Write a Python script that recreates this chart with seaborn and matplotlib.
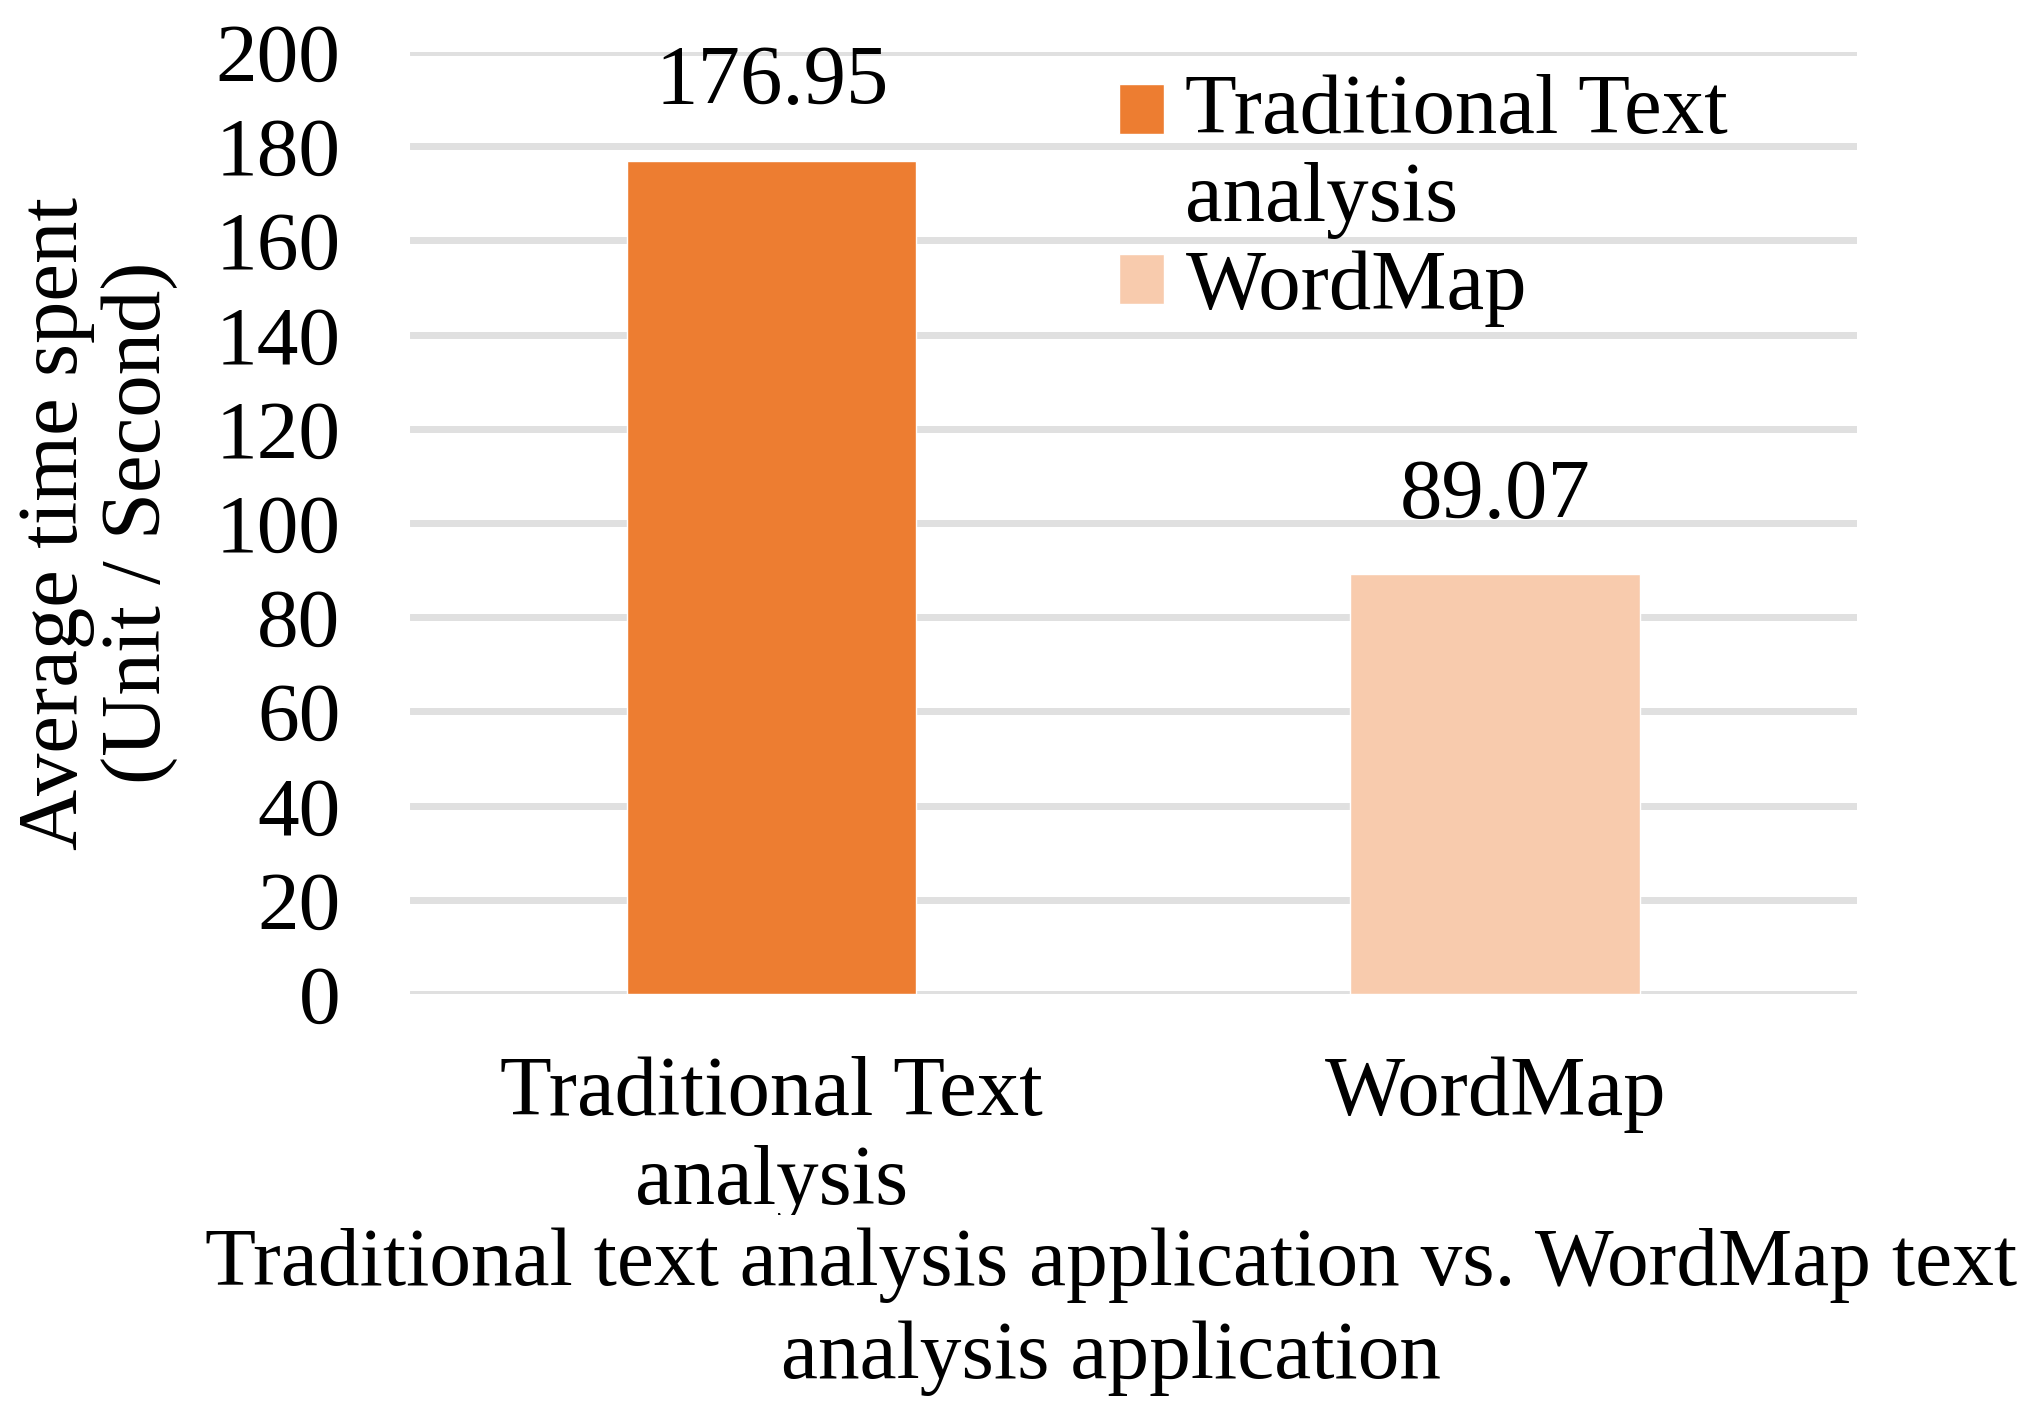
import matplotlib
matplotlib.use("Agg")
import matplotlib.pyplot as plt
import seaborn as sns
import pandas as pd
from matplotlib.legend_handler import HandlerPatch
from matplotlib.patches import Rectangle

# Chart data
categories = ["Traditional Text\nanalysis", "WordMap"]
avg_time = [176.95, 89.07]
bar_colors = ["#ED7D31", "#F8CBAD"]
y_ticks = [0, 20, 40, 60, 80, 100, 120, 140, 160, 180, 200]

df = pd.DataFrame({"Application": categories, "Time": avg_time})

sns.set_theme(style="white")
plt.rcParams["font.family"] = ["Liberation Serif", "DejaVu Serif"]
for key in ["text.color", "axes.labelcolor", "xtick.color", "ytick.color"]:
    plt.rcParams[key] = "black"
fs = 61

fig = plt.figure(figsize=(20.41, 14.22), dpi=100)
ax = fig.add_axes([0.2009, 0.301, 0.7089, 0.6624])

sns.barplot(data=df, x="Application", y="Time", hue="Application",
            palette=bar_colors, width=0.4, ax=ax, legend=True,
            saturation=1, zorder=3)

ax.set_ylim(0, 200)
ax.set_yticks(y_ticks)
ax.yaxis.grid(True, color="#e0e0e0", linewidth=5, zorder=0)
ax.set_axisbelow(True)
sns.despine(ax=ax, left=True, bottom=True)
ax.tick_params(axis="y", labelsize=60, length=0, pad=50)
ax.tick_params(axis="x", labelsize=fs, length=0, pad=45)

# Data labels
for cont in ax.containers:
    ax.bar_label(cont, fmt="%.2f", fontsize=fs, padding=28)

# Axis titles
ax.set_ylabel("Average time spent\n(Unit / Second)", fontsize=fs, linespacing=1.1)
ax.yaxis.label.set_va("center")
ax.yaxis.label.set_ha("center")
ax.yaxis.set_label_coords(-0.216, 0.5)

ax.set_xlabel("Traditional text analysis application vs. WordMap text\nanalysis application",
              fontsize=60, linespacing=1.3,
              bbox=dict(boxstyle="square,pad=0.15", facecolor="white", edgecolor="none"))
ax.xaxis.set_label_coords(0.4845, -0.248)


# Legend: square marker aligned with the first text line
def top_square(legend, orig_handle, xdescent, ydescent, width, height, fontsize):
    return Rectangle((-xdescent, -ydescent + 0.56 * fontsize), width, height)


handles, labels = ax.get_legend_handles_labels()
if ax.get_legend() is not None:
    ax.get_legend().remove()
ax.legend(handles, labels, loc="upper left", bbox_to_anchor=(0.461, 1.022),
          frameon=False, fontsize=fs, handlelength=0.53, handleheight=0.53,
          handletextpad=0.25, labelspacing=0.12, borderpad=0,
          handler_map={handles[0]: HandlerPatch(patch_func=top_square)})

fig.savefig("out.png", dpi=100, facecolor="white")
